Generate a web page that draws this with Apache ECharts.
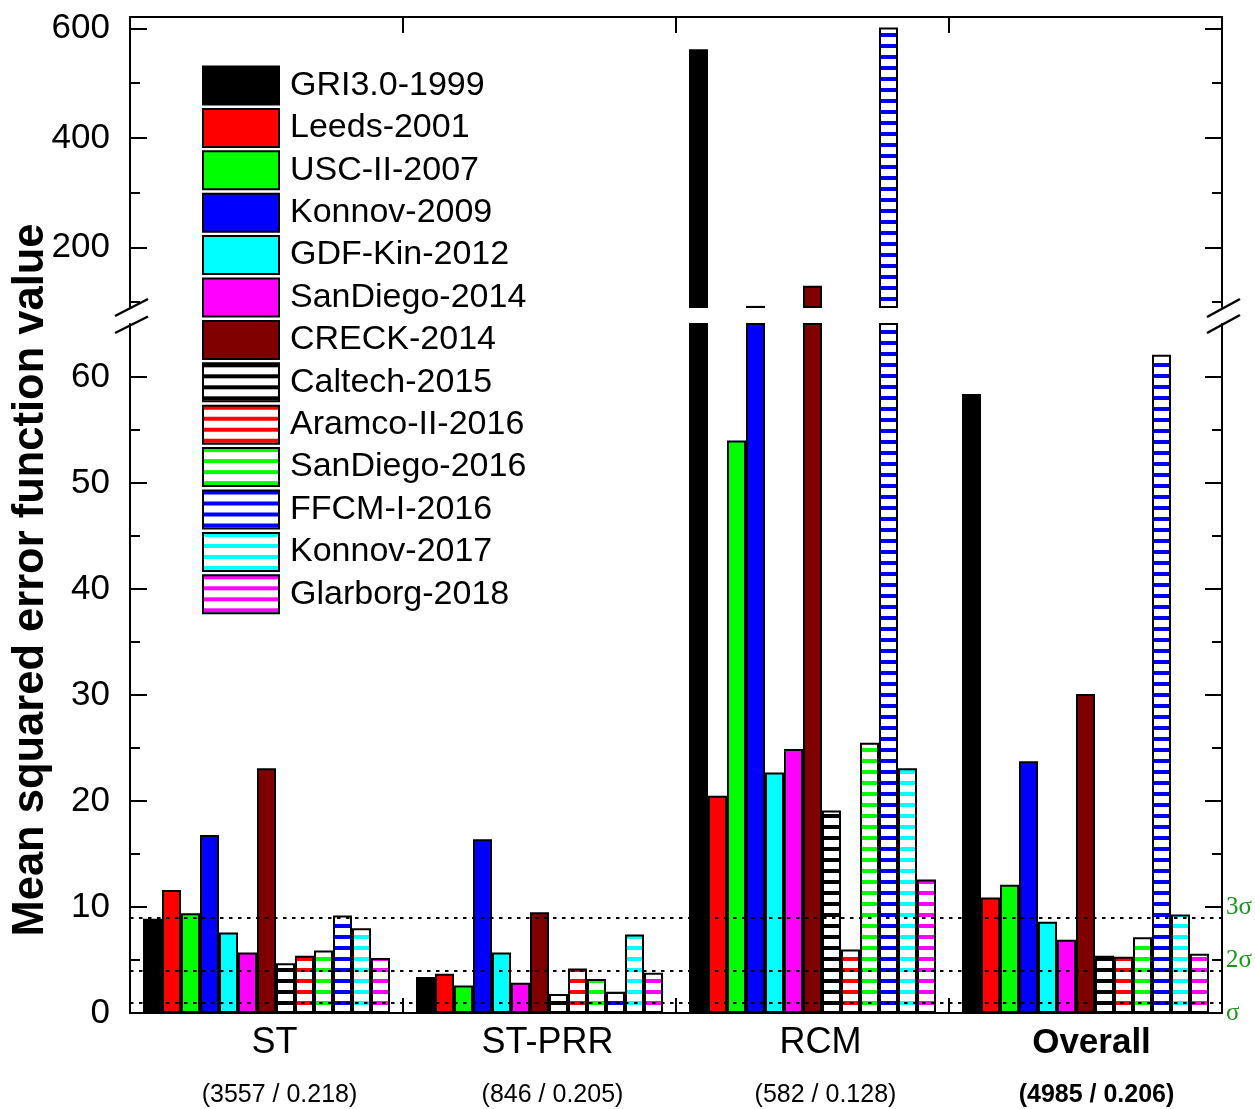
<!DOCTYPE html>
<html>
<head>
<meta charset="utf-8">
<script src="https://cdn.jsdelivr.net/npm/echarts@6/dist/echarts.min.js"></script>
<style>
html,body{margin:0;padding:0;background:#fff;}
#chart{width:1255px;height:1109px;}
</style>
</head>
<body>
<div id="chart"></div>
<script>
// ---------- data ----------
const categories = ['ST', 'ST-PRR', 'RCM', 'Overall'];
const subLabels = ['(3557 / 0.218)', '(846 / 0.205)', '(582 / 0.128)', '(4985 / 0.206)'];
const mechanisms = ['GRI3.0-1999', 'Leeds-2001', 'USC-II-2007', 'Konnov-2009', 'GDF-Kin-2012',
  'SanDiego-2014', 'CRECK-2014', 'Caltech-2015', 'Aramco-II-2016', 'SanDiego-2016',
  'FFCM-I-2016', 'Konnov-2017', 'Glarborg-2018'];
// values per mechanism for [ST, ST-PRR, RCM, Overall]
const gri30 = [8.9, 3.4, 562, 58.4];
const leeds = [11.6, 3.7, 20.5, 10.9];
const uscII = [9.4, 2.6, 54.0, 12.1];
const konnov2009 = [16.8, 16.4, 93, 23.75];
const gdfKin = [7.6, 5.7, 22.7, 8.6];
const sanDiego2014 = [5.7, 2.85, 24.9, 6.9];
const creck = [23.1, 9.5, 130, 30.1];
const caltech = [4.7, 1.8, 19.1, 5.4];
const aramcoII = [5.4, 4.2, 6.0, 5.3];
const sanDiego2016 = [5.9, 3.2, 25.5, 7.15];
const ffcmI = [9.2, 2.0, 602, 62.1];
const konnov2017 = [8.0, 7.4, 23.1, 9.3];
const glarborg = [5.2, 3.8, 12.6, 5.6];

const sigmaLevels = [1, 4, 9];          // dotted reference lines
const sigmaTicks = [0, 5, 10];          // right-axis label positions
const sigmaNames = ['σ', '2σ', '3σ'];
const lowerTicks = [0, 10, 20, 30, 40, 50, 60];
const lowerMinor = [5, 15, 25, 35, 45, 55];
const upperTicks = [200, 400, 600];
const upperMinor = [100, 300, 500];
const lowerMin = 0, lowerMax = 65;
const upperMin = 91, upperMax = 621;

// ---------- styling ----------
const seriesValues = [gri30, leeds, uscII, konnov2009, gdfKin, sanDiego2014, creck,
  caltech, aramcoII, sanDiego2016, ffcmI, konnov2017, glarborg];
const solidColors = ['#000000', '#ff0000', '#00ff00', '#0000ff', '#00ffff', '#ff00ff', '#800000'];
const stripeColors = ['#000000', '#ff0000', '#00ff00', '#0000ff', '#00ffff', '#ff00ff'];
function stripe(c) {
  const cv = document.createElement('canvas');
  cv.width = 4; cv.height = 11;
  const g = cv.getContext('2d');
  g.fillStyle = '#ffffff'; g.fillRect(0, 0, 4, 11);
  g.fillStyle = c; g.fillRect(0, 0, 4, 4);
  return { image: cv, repeat: 'repeat' };
}
const fills = solidColors.concat(stripeColors.map(stripe));
const FONT = '"Liberation Sans", Arial, Helvetica, sans-serif';
const SERIF = '"Liberation Serif", "DejaVu Serif", "Times New Roman", serif';
const AX = { color: '#000', width: 2 };

const G_LEFT = 130, G_RIGHT = 33;
const upperGrid = { left: G_LEFT, right: G_RIGHT, top: 17, height: 290 };
const lowerGrid = { left: G_LEFT, right: G_RIGHT, top: 324, height: 689 };

function yAx(grid, pos, min, max, ticks, len, labelCfg) {
  return {
    type: 'value', gridIndex: grid, position: pos, min: min, max: max,
    axisLine: { show: len > 12, lineStyle: AX },
    axisTick: { show: true, inside: true, length: len, lineStyle: AX, customValues: ticks },
    axisLabel: labelCfg ? labelCfg : { show: false },
    splitLine: { show: false }
  };
}

const yAxes = [
  yAx(0, 'left', upperMin, upperMax, upperTicks, 17,
    { show: true, customValues: upperTicks, fontSize: 35, color: '#000', margin: 20, fontFamily: FONT }),
  yAx(0, 'left', upperMin, upperMax, upperMinor, 10, null),
  yAx(0, 'right', upperMin, upperMax, upperTicks, 17, null),
  yAx(0, 'right', upperMin, upperMax, upperMinor, 10, null),
  yAx(1, 'left', lowerMin, lowerMax, lowerTicks, 17,
    { show: true, customValues: lowerTicks, fontSize: 35, color: '#000', margin: 20, fontFamily: FONT }),
  yAx(1, 'left', lowerMin, lowerMax, lowerMinor, 10, null),
  yAx(1, 'right', lowerMin, lowerMax, lowerTicks, 17,
    { show: true, customValues: sigmaTicks, fontSize: 25, color: '#1a961a', margin: 4, fontFamily: SERIF,
      formatter: function (v) { const k = sigmaTicks.indexOf(v); return k >= 0 ? sigmaNames[k] : ''; } }),
  yAx(1, 'right', lowerMin, lowerMax, lowerMinor, 10, null)
];

const xAxes = [
  {
    type: 'category', gridIndex: 0, position: 'top', data: categories,
    axisLine: { show: true, lineStyle: AX },
    axisTick: { show: true, inside: true, length: 16, lineStyle: AX },
    axisLabel: { show: false }, splitLine: { show: false }
  },
  {
    type: 'category', gridIndex: 1, position: 'bottom', data: categories,
    axisLine: { show: true, lineStyle: AX },
    axisTick: { show: true, inside: true, length: 15, lineStyle: AX },
    axisLabel: {
      show: true, margin: 8, interval: 0,
      formatter: function (v, i) {
        return i === 3 ? '{ab|' + v + '}\n{bb|' + subLabels[i] + '}' : '{a|' + v + '}\n{b|' + subLabels[i] + '}';
      },
      rich: {
        a: { fontSize: 36, lineHeight: 44, color: '#000', fontFamily: FONT, padding: [0, 0, 0, 16] },
        ab: { fontSize: 35, lineHeight: 44, color: '#000', fontFamily: FONT, fontWeight: 'bold', padding: [0, 0, 0, 12] },
        b: { fontSize: 25, lineHeight: 60, color: '#000', fontFamily: FONT, padding: [0, 0, 0, 26] },
        bb: { fontSize: 25, lineHeight: 60, color: '#000', fontFamily: FONT, fontWeight: 'bold', padding: [0, 0, 0, 22] }
      }
    },
    splitLine: { show: false }
  }
];

const series = [];
mechanisms.forEach(function (name, i) {
  const style = { color: fills[i], borderColor: '#000', borderWidth: 2 };
  series.push({
    type: 'bar', name: name, xAxisIndex: 1, yAxisIndex: 4,
    data: seriesValues[i], barWidth: 19, barGap: '0%', clip: true,
    itemStyle: style, z: 2
  });
});
mechanisms.forEach(function (name, i) {
  const style = { color: fills[i], borderColor: '#000', borderWidth: 2 };
  series.push({
    type: 'bar', name: name, xAxisIndex: 0, yAxisIndex: 0,
    data: seriesValues[i].map(function (v) { return v > lowerMax ? v : '-'; }),
    barWidth: 19, barGap: '0%', clip: true,
    itemStyle: style, z: 2
  });
});
// dotted sigma reference lines
series.push({
  type: 'line', xAxisIndex: 1, yAxisIndex: 4, data: [], z: 10, silent: true,
  markLine: {
    silent: true, symbol: 'none', animation: false,
    label: { show: false },
    lineStyle: { color: '#000', width: 2, type: [3.5, 5.5] },
    data: sigmaLevels.map(function (v) { return { yAxis: v }; })
  }
});

function brk(x1, y1, x2, y2) {
  return { type: 'line', z: 100, shape: { x1: x1, y1: y1, x2: x2, y2: y2 }, style: { stroke: '#000', lineWidth: 2.5 } };
}

const option = {
  animation: false,
  backgroundColor: '#fff',
  grid: [upperGrid, lowerGrid],
  xAxis: xAxes,
  yAxis: yAxes,
  legend: {
    data: mechanisms, orient: 'vertical', left: 202, top: 65.5, padding: 0,
    itemWidth: 76, itemHeight: 38, itemGap: 2.4, icon: 'rect', selectedMode: false,
    textStyle: { fontSize: 34, lineHeight: 38, color: '#000', fontFamily: FONT, padding: [0, 0, 0, 6] }
  },
  series: series,
  graphic: [
    {
      type: 'text', x: 31, y: 580, rotation: Math.PI / 2, z: 100,
      style: { text: 'Mean squared error function value', fontSize: 43.5, fontWeight: 'bold',
        fontFamily: FONT, fill: '#000', textAlign: 'center', textVerticalAlign: 'middle' }
    },
    brk(115, 316, 148, 299), brk(115, 333, 148, 316.5),
    brk(1207, 317, 1240, 299), brk(1207, 333, 1240, 315)
  ]
};

const chart = echarts.init(document.getElementById('chart'), null, { renderer: 'canvas' });
chart.setOption(option);
</script>
</body>
</html>
